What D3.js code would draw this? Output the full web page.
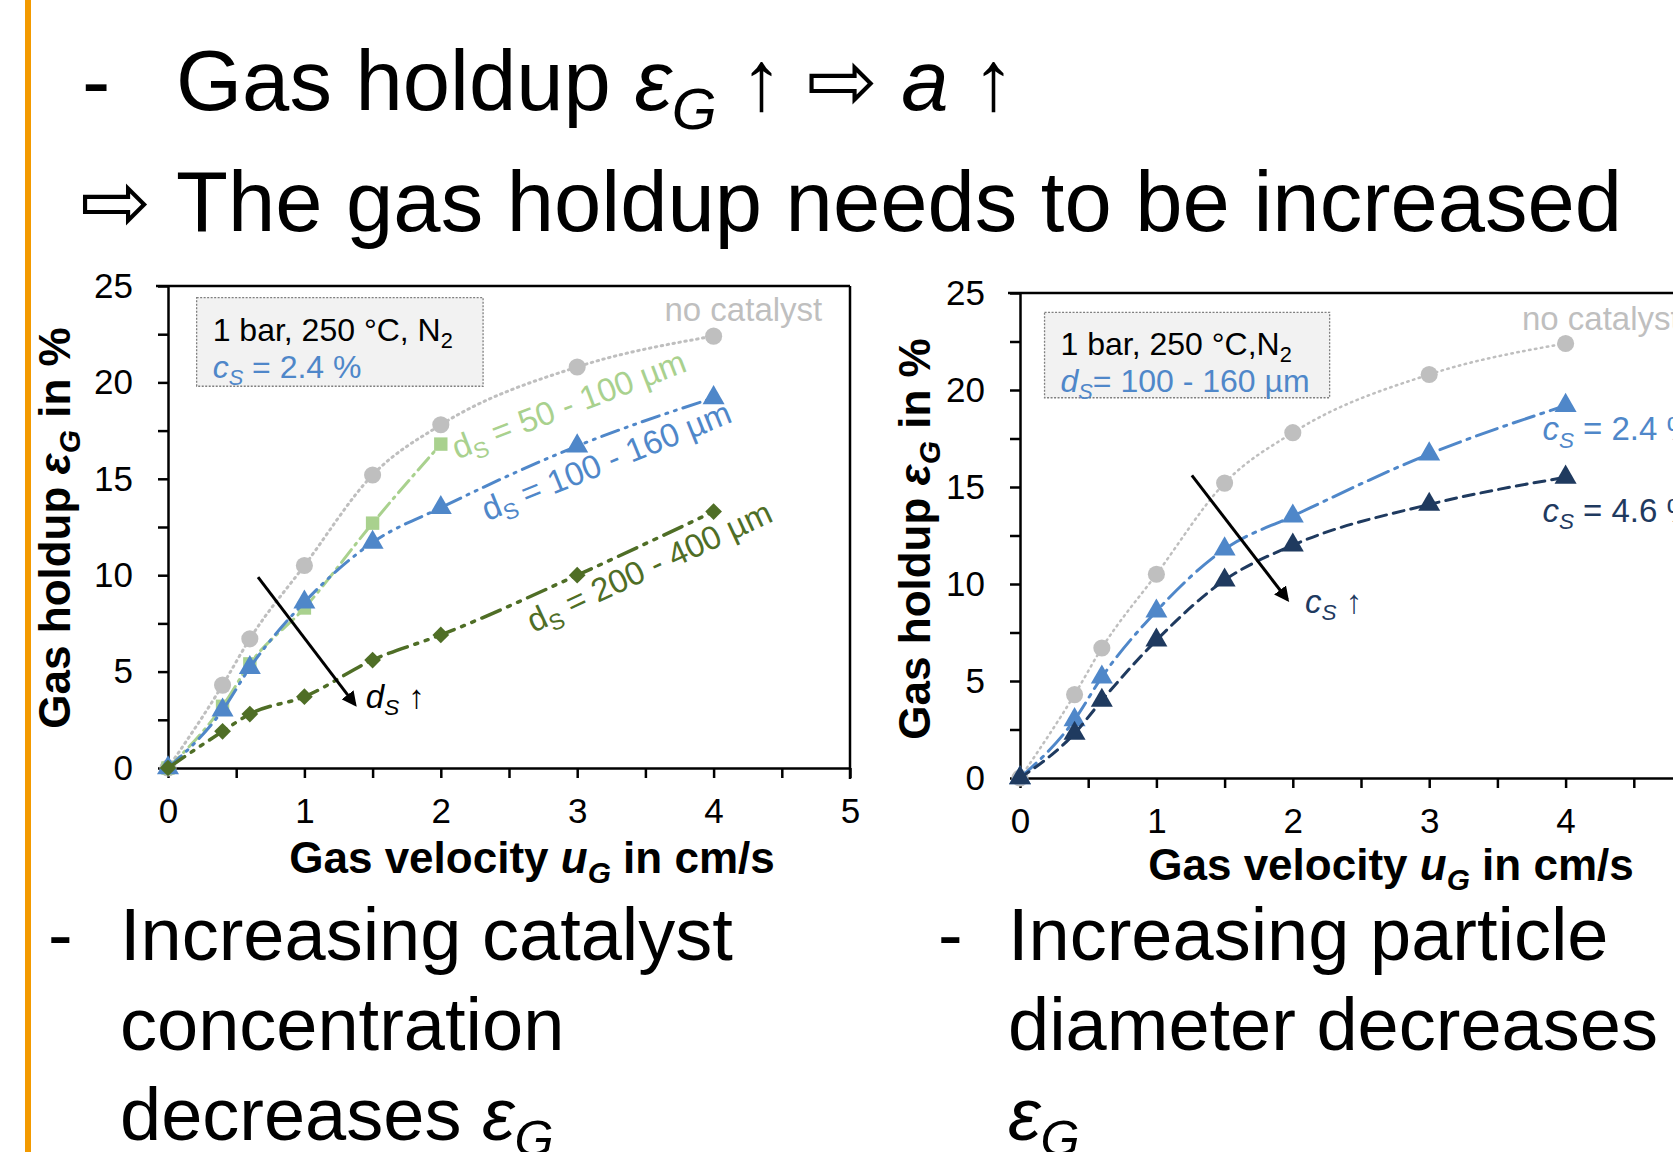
<html>
<head>
<meta charset="utf-8">
<script src="https://d3js.org/d3.v7.min.js"></script>
<style>
body{margin:0;background:#fff;overflow:hidden;}
text{font-family:"Liberation Sans",Arial,"DejaVu Sans",sans-serif;}
</style>
</head>
<body>
<script>
// gas velocity values (cm/s)
var uG=[0,0.4,0.6,1,1.5,2,3,4];
var uG50=[0,0.4,0.6,1,1.5,2];
// gas holdup (%)
var noCat=[0,4.3,6.7,10.5,15.2,17.8,20.8,22.4];
var ds50=[0,3.2,5.4,8.3,12.7,16.8];
var ds100=[0,3.0,5.2,8.6,11.7,13.5,16.7,19.2];
var ds200=[0,1.9,2.8,3.7,5.6,6.9,10.0,13.3];
var cs24=[0,3.0,5.2,8.6,11.8,13.5,16.7,19.2];
var cs46=[0,2.3,4.0,7.1,10.2,12.0,14.1,15.5];
var xTicks=[0,0.5,1,1.5,2,2.5,3,3.5,4,4.5,5];
var yTicks=[0,2.5,5,7.5,10,12.5,15,17.5,20,22.5,25];

var W=1673,H=1152;
var svg=d3.select("body").append("svg").attr("width",W).attr("height",H);

// orange slide bar
svg.append("rect").attr("x",25).attr("y",0).attr("width",6).attr("height",H).attr("fill","#F39A00");

// rich text helper: parts = [[text, flags]] flags: i italic, s subscript
function rich(sel,parts,fs){
  var base=0;
  parts.forEach(function(p){
    var t=sel.append("tspan").text(p[0]);
    var f=p[1]||"";
    var shift=f.indexOf("s")>=0?fs*0.22:0;
    if(shift!==base){t.attr("dy",shift-base);base=shift;}
    if(f.indexOf("s")>=0)t.attr("font-size",fs*0.68);
    if(f.indexOf("i")>=0)t.attr("font-style","italic");
  });
  return sel;
}

// slide texts
var t1=svg.append("text").attr("x",82).attr("y",110).attr("font-size",85).attr("fill","#000");
t1.append("tspan").text("-");
rich(t1.append("tspan").attr("x",176),[["Gas holdup "],["ε","i"],["G","is"],[" ↑ ⇨ "],["a","i"],[" ↑"]],85);
var t2=svg.append("text").attr("x",80).attr("y",231).attr("font-size",85).attr("fill","#000");
t2.append("tspan").text("⇨");
t2.append("tspan").attr("x",176).text("The gas holdup needs to be increased");

function bullet(x0,x1,lines){
  var y0=960;
  svg.append("text").attr("x",x0).attr("y",y0).attr("font-size",74).text("-");
  lines.forEach(function(l,i){
    var t=svg.append("text").attr("x",x1).attr("y",y0+i*90).attr("font-size",74);
    rich(t,l,74);
  });
}
bullet(48,120,[[["Increasing catalyst"]],[["concentration"]],[["decreases "],["ε","i"],["G","is"]]]);
bullet(938,1008,[[["Increasing particle"]],[["diameter decreases"]],[["ε","i"],["G","is"]]]);

var grey="#BFBFBF",lgreen="#A9D18E",blue="#4F87C9",dgreen="#4F6E26",navy="#1F3A5F";

svg.append("defs").append("marker").attr("id","ah").attr("viewBox","0 0 10 10")
  .attr("refX",8).attr("refY",5).attr("markerWidth",5).attr("markerHeight",5)
  .attr("orient","auto").append("path").attr("d","M0,0L10,5L0,10z").attr("fill","#000");

function chart(cfg){
  var x=d3.scaleLinear().domain([0,5]).range([cfg.left,cfg.left+682]);
  var y=d3.scaleLinear().domain([0,25]).range([cfg.bottom,cfg.bottom-cfg.h]);
  var g=svg.append("g");
  // frame top/right
  g.append("line").attr("x1",x(0)-12).attr("x2",x(5)).attr("y1",y(25)).attr("y2",y(25)).attr("stroke","#000").attr("stroke-width",2.5);
  g.append("line").attr("x1",x(5)).attr("x2",x(5)).attr("y1",y(25)).attr("y2",y(0)+11).attr("stroke","#000").attr("stroke-width",2.5);
  var ax=g.append("g").attr("transform","translate(0,"+y(0)+")")
    .call(d3.axisBottom(x).tickValues(xTicks).tickSize(10).tickSizeOuter(0).tickPadding(20)
      .tickFormat(function(d){return d%1===0?d:"";}));
  var ay=g.append("g").attr("transform","translate("+x(0)+",0)")
    .call(d3.axisLeft(y).tickValues(yTicks).tickSize(10).tickSizeOuter(0).tickPadding(25)
      .tickFormat(function(d){return d%5===0?d:"";}));
  [ax,ay].forEach(function(a){
    a.select(".domain").attr("stroke","#000").attr("stroke-width",2.5);
    a.selectAll(".tick line").attr("stroke","#000").attr("stroke-width",2.5);
    a.selectAll(".tick text").attr("font-size",35).attr("fill","#000").attr("font-family","Liberation Sans, Arial, sans-serif");
  });
  // axis titles
  var xt=g.append("text").attr("x",cfg.xtx).attr("y",cfg.xty).attr("text-anchor","middle").attr("font-size",44).attr("font-weight","bold");
  rich(xt,[["Gas velocity "],["u","i"],["G","is"],[" in cm/s"]],44);
  var yt=g.append("text").attr("transform","translate("+cfg.ytx+","+cfg.yty+") rotate(-90)").attr("text-anchor","middle").attr("font-size",44).attr("font-weight","bold");
  rich(yt,[["Gas holdup "],["ε","i"],["G","is"],[" in %"]],44);
  // info box
  var b=cfg.box;
  g.append("rect").attr("x",x(b[0])).attr("y",y(b[1])).attr("width",x(b[2])-x(b[0])).attr("height",y(b[3])-y(b[1]))
    .attr("fill","#F2F2F2").attr("stroke","#7F7F7F").attr("stroke-width",1.3).attr("stroke-dasharray","2,1.5");
  var bt=g.append("text").attr("x",x(b[0])+16).attr("y",y(b[1])+43).attr("font-size",32);
  rich(bt,cfg.boxLine1,32);
  var bt2=g.append("text").attr("x",x(b[0])+16).attr("y",y(b[1])+80).attr("font-size",32).attr("fill",blue);
  rich(bt2,cfg.boxLine2,32);
  return {g:g,x:x,y:y};
}

function series(c,xs,ys,color,dash,sym,size,sw){
  var pts=xs.map(function(d,i){return [d,ys[i]];});
  var line=d3.line().x(function(d){return c.x(d[0]);}).y(function(d){return c.y(d[1]);}).curve(d3.curveMonotoneX);
  c.g.append("path").attr("d",line(pts)).attr("fill","none").attr("stroke",color)
    .attr("stroke-width",sw||3).attr("stroke-dasharray",dash).attr("stroke-linecap","round");
  c.g.selectAll(null).data(pts).enter().append("path")
    .attr("transform",function(d){return "translate("+c.x(d[0])+","+c.y(d[1])+")"+(sym===d3.symbolSquare&&size<150?" rotate(45)":"");})
    .attr("d",d3.symbol().type(sym).size(size)).attr("fill",color);
}

function note(c,x,y,ang,parts,color,fs){
  var t=c.g.append("text").attr("transform","translate("+c.x(x)+","+c.y(y)+") rotate("+ang+")")
    .attr("font-size",fs||32).attr("fill",color);
  rich(t,parts,fs||32);
}
function arrow(c,x1,y1,x2,y2){
  c.g.append("line").attr("x1",c.x(x1)).attr("y1",c.y(y1)).attr("x2",c.x(x2)).attr("y2",c.y(y2))
    .attr("stroke","#000").attr("stroke-width",3).attr("marker-end","url(#ah)");
}

// left chart: particle diameter
var L=chart({left:168,bottom:768,h:482,xtx:532,xty:873,ytx:70,yty:528,
  box:[0.21,24.4,2.31,19.8],
  boxLine1:[["1 bar, 250 °C, N"],["2","s"]],
  boxLine2:[["c","i"],["S","is"],[" = 2.4 %"]]});
series(L,uG,noCat,grey,"1.5,4.5",d3.symbolCircle,230,3);
series(L,uG50,ds50,lgreen,"16,6,2,6",d3.symbolSquare,180,3);
series(L,uG,ds100,blue,"18,7,2,7,2,7",d3.symbolTriangle,210,3);
series(L,uG,ds200,dgreen,"20,8,3,8,3,8",d3.symbolSquare,140,3.5);
note(L,3.64,23.2,0,[["no catalyst"]],grey,33);
note(L,2.12,16.0,-21,[["d"],["S","s"],[" = 50 - 100 µm"]],lgreen,33);
note(L,2.34,12.8,-22,[["d"],["S","s"],[" = 100 - 160 µm"]],blue,33);
note(L,2.68,7.0,-25,[["d"],["S","s"],[" = 200 - 400 µm"]],dgreen,33);
arrow(L,0.66,9.9,1.37,3.3);
note(L,1.45,3.1,0,[["d","i"],["S","is"],[" ↑"]],"#000",33);

// right chart: catalyst concentration
var R=chart({left:1020,bottom:778,h:485,xtx:1391,xty:880,ytx:930,yty:539,
  box:[0.18,24.0,2.27,19.6],
  boxLine1:[["1 bar, 250 °C,N"],["2","s"]],
  boxLine2:[["d","i"],["S","is"],["= 100 - 160 µm"]]});
series(R,uG,noCat,grey,"1.5,4.5",d3.symbolCircle,230,2.5);
series(R,uG,cs24,blue,"22,7,3,7",d3.symbolTriangle,210,3);
series(R,uG,cs46,navy,"11,7",d3.symbolTriangle,210,3);
note(R,3.68,23.1,0,[["no catalyst"]],grey,33);
note(R,3.83,17.4,0,[["c","i"],["S","is"],[" = 2.4 %"]],blue,33);
note(R,3.83,13.2,0,[["c","i"],["S","is"],[" = 4.6 %"]],navy,33);
arrow(R,1.26,15.6,1.96,9.2);
note(R,2.09,8.5,0,[["c","i"],["S","is"],[" ↑"]],navy,33);
</script>
</body>
</html>
